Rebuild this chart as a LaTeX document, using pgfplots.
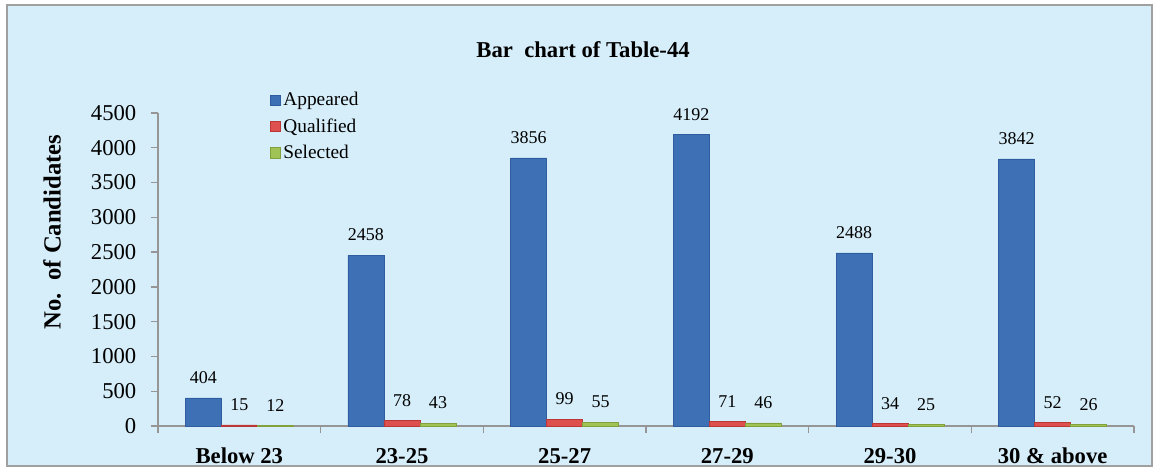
\documentclass[border=0pt]{standalone}
\usepackage{pgfplots}
\pgfplotsset{compat=1.18}
\usepackage{pgfplotstable}
\usepackage{fontspec}
\setmainfont{Liberation Serif}

\definecolor{bgblue}{RGB}{214,238,250}
\definecolor{framegray}{RGB}{160,160,160}
\definecolor{axgray}{RGB}{150,150,150}
\definecolor{appC}{RGB}{62,112,182}
\definecolor{appD}{RGB}{48,92,160}
\definecolor{qualC}{RGB}{222,80,78}
\definecolor{qualD}{RGB}{185,55,55}
\definecolor{selC}{RGB}{160,195,85}
\definecolor{selD}{RGB}{130,160,60}

\pgfplotstableread{
x app qual sel
0 404 15 12
1 2458 78 43
2 3856 99 55
3 4192 71 46
4 2488 34 25
5 3842 52 26
}\tabdata

\begin{document}
\begin{tikzpicture}
% 1 px = 0.75pt, origin at the axis corner (158,426)
\useasboundingbox (-118.5pt,-32.25pt) rectangle (750.75pt,319.5pt);
\filldraw[fill=bgblue, draw=framegray, line width=1.2pt] (-113.25pt,-30pt) rectangle (745.5pt,315.75pt);
\begin{axis}[
  at={(0,0)}, anchor=south west,
  scale only axis, width=732pt, height=234.75pt,
  xmin=-0.5, xmax=5.5, ymin=0, ymax=4500,
  axis lines*=left,
  axis line style={draw=axgray, line width=1.3pt},
  ybar=0pt, bar width=27pt,
  xtick={0,...,5},
  xticklabels={Below 23,23-25,25-27,27-29,29-30,30 \& above},
  major x tick style={draw=none},
  minor xtick={-0.5,0.5,...,5.5},
  ytick={0,500,...,4500},
  tick align=outside,
  major tick length=5.25pt, minor tick length=5.25pt,
  tick style={draw=axgray, line width=1pt},
  xticklabel style={font=\bfseries\fontsize{17}{19}\selectfont, anchor=center, yshift=-17pt},
  yticklabel={\pgfmathprintnumber[assume math mode=true,1000 sep={}]{\tick}},
  yticklabel style={font=\fontsize{17}{19}\selectfont, xshift=-7.5pt},
  nodes near coords={\pgfmathprintnumber[assume math mode=true,1000 sep={}]{\pgfplotspointmeta}},
  every node near coord/.append style={font=\fontsize{13.5}{15}\selectfont, color=black, anchor=center, yshift=15pt},
  ylabel={No.\ \ of Candidates},
  every axis y label/.style={at={(rel axis cs:-0.1086,0.62)}, rotate=90, anchor=center, font=\bfseries\fontsize{18.5}{20}\selectfont},
  clip=false,
  legend style={at={(rel axis cs:0.114,1.075)}, anchor=north west, draw=none, fill=none,
    font=\fontsize{14.5}{16}\selectfont, row sep=4pt, inner sep=0pt,
    legend cell align=left},
  legend image code/.code={\fill[#1] (0pt,-4pt) rectangle (8pt,4pt);},
]
\addplot[draw=appD, line width=0.4pt, fill=appC] table[x=x,y=app] {\tabdata};
\addplot[draw=qualD, line width=0.4pt, fill=qualC] table[x=x,y=qual] {\tabdata};
\addplot[draw=selD, line width=0.4pt, fill=selC] table[x=x,y=sel] {\tabdata};
\legend{Appeared,Qualified,Selected}
\node[font=\bfseries\fontsize{17}{19}\selectfont] at (rel axis cs:0.4355,1.201) {Bar\ \ chart of Table-44};
\end{axis}
\end{tikzpicture}
\end{document}
